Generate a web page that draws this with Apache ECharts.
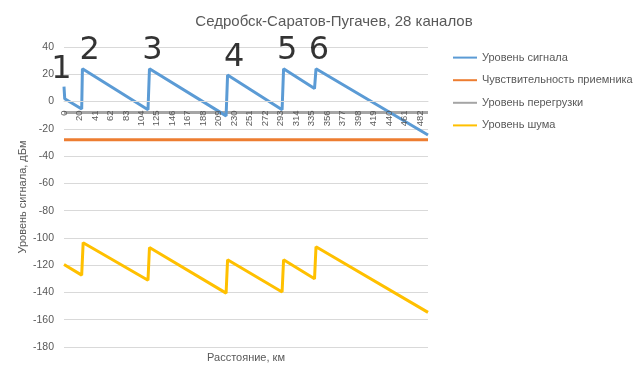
<!DOCTYPE html>
<html><head><meta charset="utf-8">
<script src="https://cdn.jsdelivr.net/npm/echarts@6/dist/echarts.min.js"></script>
<style>html,body{margin:0;padding:0;background:#fff}#c{width:637px;height:382px}</style>
</head><body><div id="c"></div>
<script>
// Distance categories (km); the first kilometre mark 0 appears twice
const kmLast = 493;
const categories = ['0'];
for (let k = 0; k <= kmLast; k++) categories.push(String(k));

// Breakpoints: category index and level (dBm)
const signalIdx = [0, 1, 24, 25, 114, 116, 220, 222, 296, 298, 340, 342, 494];
const signalDbm = [11, 2, -5.5, 24, -6, 24, -10.5, 19.5, -6, 24, 9.5, 24, -24.5];
const noiseIdx = [0, 1, 24, 26, 114, 116, 220, 222, 296, 298, 340, 342, 494];
const noiseDbm = [-119.5, -120, -127.3, -103.5, -131, -107, -140.5, -116, -139.7, -116, -130, -106.5, -154.6];
const sensitivityDbm = -28;
const overloadDbm = -8;

// Station number annotations: category index, level, text
const stationIdx = [0, 35, 120, 231, 303, 346];
const stationDbm = [23, 37.5, 37, 32, 37, 37];
const stationText = ['1', '2', '3', '4', '5', '6'];

const names = ['Уровень сигнала', 'Чувствительность приемника', 'Уровень перегрузки', 'Уровень шума'];
const colors = ['#5B9BD5', '#ED7D31', '#A5A5A5', '#FFC000'];
const lastIdx = categories.length - 1;

const pair = (xs, ys) => xs.map((x, i) => [x, ys[i]]);
const font = 'Liberation Sans, Arial, sans-serif';
const chart = echarts.init(document.getElementById('c'), null, {renderer: 'canvas'});
chart.setOption({
  animation: false,
  backgroundColor: '#fff',
  title: {
    text: 'Седробск-Саратов-Пугачев, 28 каналов',
    left: 329, top: 9, textAlign: 'center',
    textStyle: {fontFamily: font, fontSize: 15, fontWeight: 'normal', color: '#595959'}
  },
  legend: {
    data: names, orient: 'vertical', left: 447, top: 47,
    itemWidth: 24, itemHeight: 14, itemGap: 11.4,
    itemStyle: {opacity: 0},
    textStyle: {fontFamily: font, fontSize: 11, color: '#595959'}
  },
  grid: {left: 64, top: 47, width: 364, height: 300, containLabel: false},
  xAxis: {
    type: 'category', data: categories, boundaryGap: false, z: 10,
    position: 'bottom', offset: -245.5,
    axisLine: {onZero: false, lineStyle: {color: '#D9D9D9'}},
    axisTick: {show: false},
    axisLabel: {interval: 20, rotate: 90, margin: 9, fontFamily: font, fontSize: 9.5, color: '#595959'},
    splitLine: {show: false}
  },
  yAxis: {
    type: 'value', min: -180, max: 40, interval: 20,
    name: 'Уровень сигнала, дБм', nameLocation: 'middle', nameGap: 36, nameMoveOverlap: false,
    nameTextStyle: {fontFamily: font, fontSize: 11, color: '#595959'},
    axisLine: {show: false}, axisTick: {show: false},
    axisLabel: {margin: 10, fontFamily: font, fontSize: 10.5, color: '#595959'},
    splitLine: {lineStyle: {color: '#D9D9D9'}}
  },
  graphic: [{
    type: 'text', x: 246, y: 352,
    style: {text: 'Расстояние, км', fontFamily: font, fontSize: 11, fill: '#595959', textAlign: 'center'}
  }],
  series: [
    {name: names[0], type: 'line', symbol: 'none', data: pair(signalIdx, signalDbm), lineStyle: {width: 3, color: colors[0]}, itemStyle: {color: colors[0]}, z: 5},
    {name: names[1], type: 'line', symbol: 'none', data: [[0, sensitivityDbm], [lastIdx, sensitivityDbm]], lineStyle: {width: 3, color: colors[1]}, itemStyle: {color: colors[1]}, z: 4},
    {name: names[2], type: 'line', symbol: 'none', data: [[0, overloadDbm], [lastIdx, overloadDbm]], lineStyle: {width: 3, color: colors[2]}, itemStyle: {color: colors[2]}, z: 3},
    {name: names[3], type: 'line', symbol: 'none', data: pair(noiseIdx, noiseDbm), lineStyle: {width: 3, color: colors[3]}, itemStyle: {color: colors[3]}, z: 4},
    {name: 'stations', type: 'scatter', symbolSize: 0, silent: true, z: 20,
     data: stationIdx.map((x, i) => ({value: [x, stationDbm[i]], label: {formatter: stationText[i], offset: i === 0 ? [-2.5, 0] : [0, 0]}})),
     label: {show: true, position: 'inside', fontFamily: 'DejaVu Sans, sans-serif', fontSize: 32, color: '#000'}}
  ]
});
</script></body></html>
